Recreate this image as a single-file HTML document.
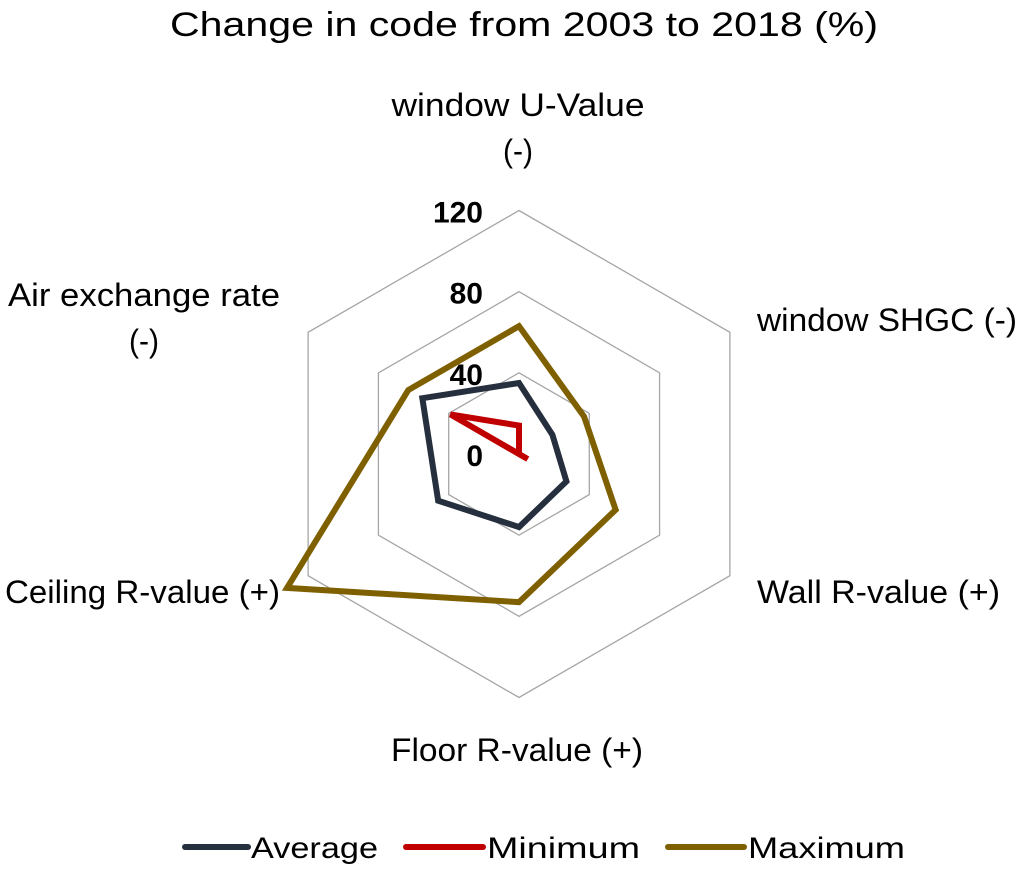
<!DOCTYPE html>
<html><head><meta charset="utf-8"><style>
body{margin:0;background:#fff;}
svg text{font-family:"Liberation Sans",sans-serif;fill:#000;}
</style></head><body>
<svg id="chart" width="1020" height="867">
<text x="170" y="36" font-size="34" textLength="708" lengthAdjust="spacingAndGlyphs">Change in code from 2003 to 2018 (%)</text>
<g id="grid"></g><g id="series"></g><g id="ticks"></g><g id="labels"></g>
<g>
<g><line x1="185" y1="847" x2="248" y2="847" stroke="#262f3d" stroke-width="6" stroke-linecap="round"/><text x="251" y="858" font-size="30" textLength="127" lengthAdjust="spacingAndGlyphs">Average</text></g>
<g><line x1="406" y1="847" x2="483" y2="847" stroke="#c00000" stroke-width="6" stroke-linecap="round"/><text x="487" y="858" font-size="30" textLength="153" lengthAdjust="spacingAndGlyphs">Minimum</text></g>
<g><line x1="668" y1="847" x2="744" y2="847" stroke="#7f6000" stroke-width="6" stroke-linecap="round"/><text x="748" y="858" font-size="30" textLength="157" lengthAdjust="spacingAndGlyphs">Maximum</text></g>
</g>
</svg>
<script>
const categories=["window U-Value (-)","window SHGC (-)","Wall R-value (+)","Floor R-value (+)","Ceiling R-value (+)","Air exchange rate (-)"];
const averageValues=[35,19,27,36,46,55];
const minimumValues=[14,0,5,0,0,39];
const maximumValues=[63,37,55,73,132,63];
const tickValues=[0,40,80,120];
const NS="http://www.w3.org/2000/svg";
const cx=519,cy=454,maxVal=120,maxR=243.5;
function rScale(v){return v/maxVal*maxR;}
function pt(i,v){const a=-Math.PI/2+i*Math.PI/3;return [cx+rScale(v)*Math.cos(a),cy+rScale(v)*Math.sin(a)];}
function mk(tag,attrs,parent){const e=document.createElementNS(NS,tag);for(const k in attrs)e.setAttribute(k,attrs[k]);parent.appendChild(e);return e;}
const grid=document.getElementById('grid');
tickValues.forEach(t=>{if(t===0)return;
 const p=categories.map((c,i)=>pt(i,t).join(',')).join(' ');
 const e=mk('polygon',{points:p,fill:'none',stroke:'#a6a6a6','stroke-width':1.3},grid);
 
 });
const ticks=document.getElementById('ticks');
tickValues.forEach(t=>{const y=cy-rScale(t);
 const e=mk('text',{x:cx-36,y:y+12,'font-size':30,'font-weight':'bold','text-anchor':'end'},ticks);e.textContent=t;
 
 });
const series=document.getElementById('series');
[["average",averageValues,"#262f3d"],["maximum",maximumValues,"#7f6000"],["minimum",minimumValues,"#c00000"]].forEach(([n,vals,col])=>{
 const p=vals.map((v,i)=>pt(i,v).join(',')).join(' ');
 const e=mk('polygon',{points:p,fill:'none',stroke:col,'stroke-width':6,'stroke-linejoin':'miter'},series);
 
 });
const labels=document.getElementById('labels');
// [x, baselines, anchor, lines, widths]
const labelPos=[[518,[116,162],"middle",["window U-Value","(-)"],[253,30]],[757,[331],"start",["window SHGC (-)"],[260]],[757,[603],"start",["Wall R-value (+)"],[243]],[517,[761],"middle",["Floor R-value (+)"],[252]],[280,[603],"end",["Ceiling R-value (+)"],[275]],[144,[306,352],"middle",["Air exchange rate","(-)"],[272,30]]];
labelPos.forEach((lp,i)=>{const e=mk('text',{'font-size':32,'text-anchor':lp[2]},labels);
 
 
 lp[3].forEach((s,j)=>{const ts=mk('tspan',{x:lp[0],y:lp[1][j],textLength:lp[4][j],lengthAdjust:'spacingAndGlyphs'},e);ts.textContent=s;});});
</script>
</body></html>
